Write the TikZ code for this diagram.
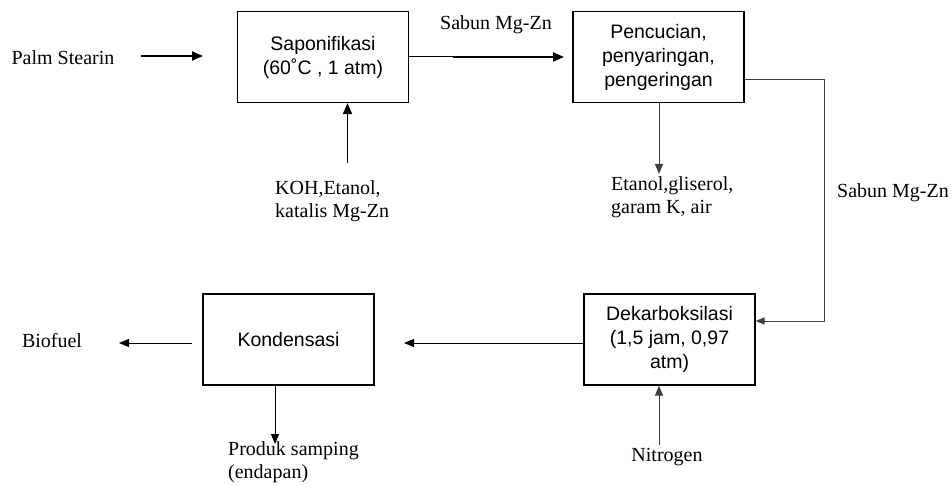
\documentclass[tikz,border=0pt]{standalone}
\usepackage{fontspec}
\setmainfont{Liberation Serif}
\newfontfamily\boxfont{Liberation Sans}
\usetikzlibrary{arrows.meta,calc}
\begin{document}
\begin{tikzpicture}[x=1pt,y=-1pt,
  procbox/.style={draw,line width=1.2pt,minimum width=171pt,minimum height=91pt,inner sep=0pt,
    align=center,font=\boxfont\fontsize{19.5}{24}\selectfont},
  lbl/.style={inner sep=0pt,font=\fontsize{20}{22.5}\selectfont,align=left},
  flow/.style={line width=1pt,-{Triangle[length=10pt,width=8pt]}},
  thickflow/.style={line width=1.8pt,-{Triangle[length=11pt,width=9pt]}},
  thinflow/.style={line width=0.9pt,draw=black!75,-{Triangle[length=10pt,width=8pt]}}]
\useasboundingbox (0,0) rectangle (952,486);
% boxes
\node[procbox] (sapo) at (323,57) {Saponifikasi\\(60˚C , 1 atm)};
\node[procbox] (pencu) at (658.5,57) {Pencucian,\\penyaringan,\\pengeringan};
\node[procbox] (dekar) at (669.5,339.5) {Dekarboksilasi\\(1,5 jam, 0,97\\atm)};
\node[procbox] (kond) at (288.5,339.5) {Kondensasi};
% labels
\node[lbl] (palm) at (63,58) {Palm Stearin};
\node[lbl] (sabun1) at (496,25) {Sabun Mg-Zn};
\node[lbl,anchor=west] (koh) at (275,201) {KOH,Etanol,\\katalis Mg-Zn};
\node[lbl,anchor=west] (etanol) at (611,197) {Etanol,gliserol,\\garam K, air};
\node[lbl,anchor=west] (sabun2) at (837,193) {Sabun Mg-Zn};
\node[lbl] (biofuel) at (52,341) {Biofuel};
\node[lbl,anchor=west] (produk) at (228,462) {Produk samping\\(endapan)};
\node[lbl] (nitro) at (667,457) {Nitrogen};
% free ends
\coordinate (palmS) at (141,56);
\coordinate (palmE) at (203,56);
\coordinate (sabE) at (564,57);
\coordinate (kohS) at (347.5,163);
\coordinate (etE) at (659,174);
\coordinate (rtop) at (824,79);
\coordinate (rbot) at (824,321);
\coordinate (dkE) at (404,343);
\coordinate (bfS) at (192,343);
\coordinate (bfE) at (119,343);
\coordinate (pdE) at (275,444);
\coordinate (niS) at (659,445);
% connectors
\draw[thickflow] (palmS) -- (palmE);
\draw[line width=1pt] (sapo.east |- sabE) -- (453,57);
\draw[thickflow] (453,57) -- (sabE);
\draw[thickflow] (kohS) -- (kohS |- sapo.south);
\draw[thinflow] (etE |- pencu.south) -- (etE);
\draw[line width=0.9pt,draw=black!75,-{Triangle[length=9pt,width=7pt]}] (pencu.east |- rtop) -- (rtop) -- (rbot) -- (rbot -| dekar.east);
\draw[flow] (dekar.west |- dkE) -- (dkE);
\draw[flow] (bfS) -- (bfE);
\draw[flow] (pdE |- kond.south) -- (pdE);
\draw[thinflow] (niS) -- (niS |- dekar.south);
\end{tikzpicture}
\end{document}
